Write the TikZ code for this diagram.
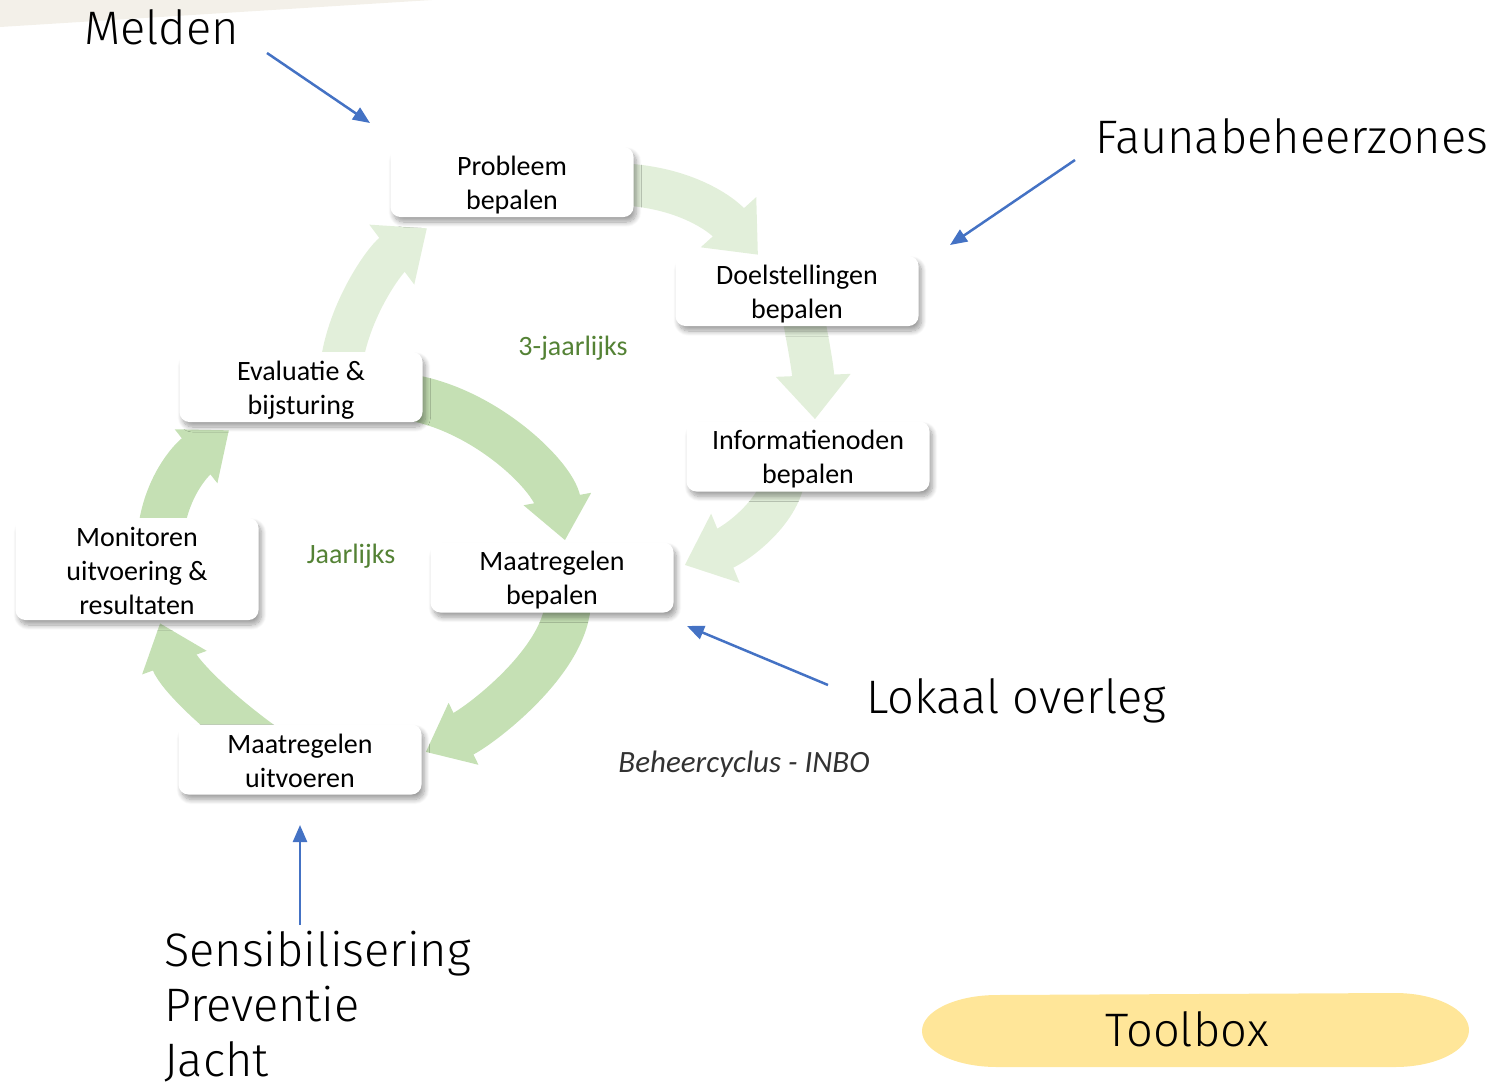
\documentclass[tikz,border=0pt]{standalone}
\usepackage{fontspec}
\setmainfont{Carlito}
\newfontfamily\dinfont{Fira Sans Light}
\usetikzlibrary{arrows.meta,shadows.blur,calc}
\pgfdeclarelayer{background}
\pgfsetlayers{background,main}
\definecolor{lightg}{RGB}{226,239,218}
\definecolor{midg}{RGB}{197,224,180}
\definecolor{bluearr}{RGB}{68,114,196}
\definecolor{labelg}{RGB}{84,130,53}
\definecolor{beige}{RGB}{243,240,233}
\definecolor{toolyel}{RGB}{255,230,153}
\definecolor{capgray}{RGB}{50,50,50}
\begin{document}
\begin{tikzpicture}[x=1pt,y=-1pt,
  stepbox/.style={fill=white, rounded corners=10pt, minimum width=243pt, minimum height=70pt,
    inner sep=0pt,
    blur shadow={shadow xshift=3pt, shadow yshift=-5pt, shadow blur radius=5pt,
      shadow blur steps=12, shadow opacity=38}},
  steptext/.style={inner sep=0pt, align=center, font=\fontsize{28}{34}\selectfont},
  bigtext/.style={font=\dinfont\fontsize{47}{58}\selectfont, inner sep=0pt},
  cyclelabel/.style={text=labelg, font=\fontsize{28}{34}\selectfont, inner sep=0pt},
  outerarrow/.style={draw=lightg, line width=42pt, -{Triangle[width=72pt,length=44pt]}},
  innerarrow/.style={draw=midg, line width=46pt, -{Triangle[width=66pt,length=42pt]}},
  pointer/.style={draw=bluearr, line width=2.5pt, -{Triangle[width=14pt,length=17pt]}},
]
\useasboundingbox (0,0) rectangle (1497,1088);
% beige band top-left
\fill[beige] (0,0) -- (432,0) -- (0,27) -- cycle;

% step boxes
\node[stepbox] (prob) at (512,182) {};
\node[stepbox] (doel) at (797,291) {};
\node[stepbox] (info) at (808,456.5) {};
\node[stepbox] (mbep) at (552,577.5) {};
\node[stepbox] (muit) at (300,759.5) {};
\node[stepbox, minimum height=102pt] (moni) at (137,569) {};
\node[stepbox] (eval) at (301,387) {};
% box texts
\node[steptext] (probT) at ($(prob)+(0,3)$) {Probleem\\bepalen};
\node[steptext] (doelT) at ($(doel)+(0,3)$) {Doelstellingen\\bepalen};
\node[steptext] (infoT) at ($(info)+(0,3)$) {Informatienoden\\bepalen};
\node[steptext] (mbepT) at ($(mbep)+(0,3)$) {Maatregelen\\bepalen};
\node[steptext] (muitT) at ($(muit)+(0,1.5)$) {Maatregelen\\uitvoeren};
\node[steptext] (moniT) at ($(moni)+(0,2)$) {Monitoren\\uitvoering \&\\resultaten};
\node[steptext] (evalT) at ($(eval)+(0,3)$) {Evaluatie \&\\bijsturing};

% cycle arrows (behind the boxes)
\begin{pgfonlayer}{background}
\draw[outerarrow] ($(prob.east)+(-24,2)$) .. controls +(70,0) and +(-38,-42) .. ($(doel.north)+(-39,-1)$);
\draw[outerarrow] ($(doel.south)+(3,-26)$) .. controls +(8,40) and +(-2,-50) .. ($(info.north)+(7,-2)$);
\draw[outerarrow] ($(info.south)+(-23,-21)$) .. controls +(-2,40) and +(51,-21) .. ($(mbep.east)+(11,-12.5)$);
\draw[outerarrow] ($(eval.north)+(39,28)$) .. controls +(2,-60) and +(-44,33) .. ($(prob.south)+(-85,11)$);
\draw[innerarrow] ($(eval.east)+(-22,9)$) .. controls +(80,9) and +(-12,-65) .. ($(mbep.north)+(13,-2)$);
\draw[innerarrow] ($(mbep.south)+(16,-13)$) .. controls +(0,60) and +(54,-26) .. ($(muit.east)+(4,-7.5)$);
\draw[innerarrow] ($(muit.north)+(-30,26)$) .. controls +(-50,-35) and +(19,52) .. ($(moni.south)+(23,3)$);
\draw[innerarrow] ($(moni.north)+(23,22)$) .. controls +(3,-45) and +(-43,34) .. ($(eval.south)+(-72,8)$);
\end{pgfonlayer}

% cycle labels
\node[cyclelabel, anchor=base] (drie) at (573,355) {3-jaarlijks};
\node[cyclelabel, anchor=base] (jaar) at (351,563) {Jaarlijks};
\node[anchor=base, inner sep=0pt, text=capgray, font=\itshape\fontsize{31}{36}\selectfont] (inbo) at (744,772) {Beheercyclus - INBO};

% instruments
\node[bigtext, anchor=base west] (melden) at (84,44) {Melden};
\node[bigtext, anchor=base west] (fauna) at (1095,153) {Faunabeheerzones};
\node[bigtext, anchor=base west] (lokaal) at (866,713) {Lokaal overleg};
\node[bigtext, anchor=base west, align=left, font=\dinfont\fontsize{47}{55}\selectfont] (tools) at (164,1076) {Sensibilisering\\Preventie\\Jacht};

\coordinate (m1) at (267,53);   \coordinate (m2) at (370,123);
\coordinate (f1) at (1075,160); \coordinate (f2) at (950,245);
\coordinate (l1) at (828,685);  \coordinate (l2) at (687,626);
\coordinate (s1) at (300,925);  \coordinate (s2) at (300,825);
\draw[pointer] (m1) -- (m2);
\draw[pointer] (f1) -- (f2);
\draw[pointer] (l1) -- (l2);
\draw[pointer] (s1) -- (s2);

% toolbox
\fill[toolyel] (997,995) -- (1395,993) arc[start angle=-90, end angle=90, x radius=74, y radius=37]
  -- (997,1067) arc[start angle=90, end angle=270, x radius=75, y radius=36] -- cycle;
\node[bigtext, anchor=base] (toolbox) at (1187,1046) {Toolbox};
\end{tikzpicture}
\end{document}
